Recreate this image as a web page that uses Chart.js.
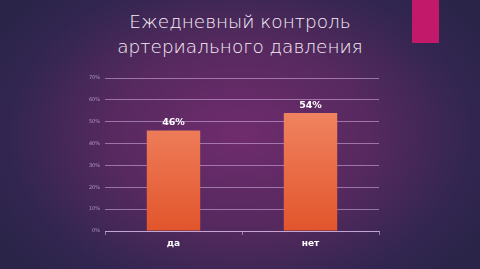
<!DOCTYPE html>
<html>
<head>
<meta charset="utf-8">
<script src="https://cdn.jsdelivr.net/npm/chart.js@4"></script>
<style>
  html, body { margin: 0; padding: 0; }
  body {
    width: 480px; height: 269px; overflow: hidden; position: relative;
    background: radial-gradient(ellipse 60% 75% at 50% 50%, #702c6e 0%, #56295f 45%, #322650 80%, #2a2448 100%);
  }
  #accent { position: absolute; left: 412px; top: 0; width: 27px; height: 43px; background: #c2196b; }
  #title {
    position: absolute; left: 0; top: 9px; width: 480px; text-align: center;
    font-family: "DejaVu Sans", sans-serif; font-weight: 200; font-size: 18.5px; line-height: 25px;
    color: #f8eef8; margin: 0;
  }
  #wrap { position: absolute; left: 0; top: 0; width: 480px; height: 269px; }
</style>
</head>
<body>
<div id="accent"></div>
<div id="title">Ежедневный контроль<br>артериального давления</div>
<div id="wrap"><canvas id="grafico" width="480" height="269"></canvas></div>
<script>
const categorias = ['да', 'нет'];
const valores = [46, 54];
const ticksY = [0, 10, 20, 30, 40, 50, 60, 70];

// etiquetas de valor sobre las barras
const etiquetas = {
    id: 'etiquetas',
    afterDatasetsDraw(chart) {
        const ctx = chart.ctx;
        const meta = chart.getDatasetMeta(0);
        ctx.save();
        ctx.fillStyle = '#ffffff';
        ctx.font = 'bold 9.5px "DejaVu Sans", sans-serif';
        ctx.textAlign = 'center';
        ctx.textBaseline = 'bottom';
        meta.data.forEach((bar, i) => {
            ctx.fillText(valores[i] + '%', bar.x, bar.y - 3);
        });
        ctx.restore();
    }
};

const ctx = document.getElementById('grafico').getContext('2d');
new Chart(ctx, {
    type: 'bar',
    data: {
        labels: categorias,
        datasets: [{
            data: valores,
            backgroundColor: function (c) {
                const area = c.chart.chartArea;
                if (!area) return '#ea6c48';
                const g = c.chart.ctx.createLinearGradient(0, area.top, 0, area.bottom);
                g.addColorStop(0, '#f4906f');
                g.addColorStop(1, '#e2552c');
                return g;
            },
            borderWidth: 0,
            categoryPercentage: 0.39,
            barPercentage: 1
        }]
    },
    options: {
        responsive: false,
        animation: false,
        layout: { padding: { left: 80, right: 101, top: 78, bottom: 0 } },
        plugins: { legend: { display: false }, tooltip: { enabled: false } },
        scales: {
            x: {
                afterFit: s => { s.height = 38; },
                grid: { drawOnChartArea: false, drawTicks: true, tickLength: 4, color: 'rgba(215,180,225,0.6)' },
                border: { color: 'rgba(215,180,225,0.75)' },
                ticks: { color: '#ffffff', font: { size: 9, weight: 'bold', family: '"DejaVu Sans", sans-serif' }, padding: 3 }
            },
            y: {
                min: 0, max: 70,
                afterFit: s => { s.width = 25; },
                afterBuildTicks: s => { s.ticks = ticksY.map(v => ({ value: v })); },
                grid: { color: 'rgba(215,180,225,0.55)', drawTicks: false },
                border: { display: false },
                ticks: {
                    autoSkip: false,
                    color: 'rgba(225,200,230,0.65)',
                    font: { size: 5, family: '"DejaVu Sans", sans-serif' },
                    padding: 5,
                    callback: v => v + '%'
                }
            }
        }
    },
    plugins: [etiquetas]
});
</script>
</body>
</html>
